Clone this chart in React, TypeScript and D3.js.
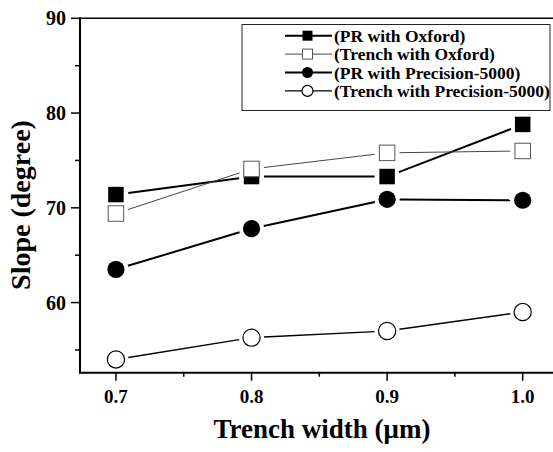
import React from 'react';
import { scaleLinear } from 'd3';

// trench widths (um)
const widths = [0.7, 0.8, 0.9, 1.0];

// slope values in degrees
const prOxford = [71.4, 73.3, 73.3, 78.8];
const trenchOxford = [69.4, 74.1, 75.8, 76.0];
const prPrecision = [63.5, 67.8, 70.9, 70.8];
const trenchPrecision = [54.0, 56.3, 57.0, 59.0];

const seriesNames = [
    '(PR with Oxford)',
    '(Trench with Oxford)',
    '(PR with Precision-5000)',
    '(Trench with Precision-5000)'
];

const xTicks = [0.7, 0.8, 0.9, 1.0];
const xMinorTicks = [0.75, 0.85, 0.95];
const yTicks = [60, 70, 80, 90];
const yMinorTicks = [55, 65, 75, 85];

const W = 553;
const H = 452;
const FONT = '"Liberation Serif", "Times New Roman", serif';

type Style = {
    marker: 'square' | 'circle';
    filled: boolean;
    lineColor: string;
    lineWidth: number;
};

const styles: Style[] = [
    { marker: 'square', filled: true, lineColor: '#000', lineWidth: 2 },
    { marker: 'square', filled: false, lineColor: '#444', lineWidth: 1 },
    { marker: 'circle', filled: true, lineColor: '#000', lineWidth: 2 },
    { marker: 'circle', filled: false, lineColor: '#000', lineWidth: 1.4 }
];

const Marker = ({ cx, cy, st, size }: { cx: number; cy: number; st: Style; size: number }) => {
    if (st.marker === 'square') {
        return (
            <rect
                x={cx - size / 2}
                y={cy - size / 2}
                width={size}
                height={size}
                fill={st.filled ? '#000' : '#fff'}
                stroke={st.filled ? '#000' : '#555'}
                strokeWidth={st.filled ? 0 : 1}
            />
        );
    }
    return (
        <circle
            cx={cx}
            cy={cy}
            r={size / 2}
            fill={st.filled ? '#000' : '#fff'}
            stroke="#000"
            strokeWidth={st.filled ? 0 : 1.2}
        />
    );
};

const App = () => {
    const x = scaleLinear().domain([0.6735, 1.05]).range([80, 590.5]);
    const y = scaleLinear().domain([52.6, 90]).range([372.7, 18.3]);

    const allSeries = [prOxford, trenchOxford, prPrecision, trenchPrecision];
    const gap = 12.5;

    // line segments stop short of the markers, like the original plot
    const segments = (vals: number[]) => {
        const out: Array<[number, number, number, number]> = [];
        for (let i = 0; i < vals.length - 1; i++) {
            const x0 = x(widths[i]);
            const y0 = y(vals[i]);
            const x1 = x(widths[i + 1]);
            const y1 = y(vals[i + 1]);
            const len = Math.hypot(x1 - x0, y1 - y0);
            const ux = (x1 - x0) / len;
            const uy = (y1 - y0) / len;
            out.push([x0 + ux * gap, y0 + uy * gap, x1 - ux * gap, y1 - uy * gap]);
        }
        return out;
    };

    const left = x.range()[0];
    const bottom = y.range()[0];
    const top = y.range()[1];

    // legend
    const legX = 242;
    const legY = 24.5;
    const legW = 308;
    const legH = 86;
    const rowY = (i: number) => 35.7 + i * 18.4;

    return (
        <div style={{ position: 'absolute', left: 0, top: 0 }}>
            <svg width={W} height={H} style={{ display: 'block', background: '#fff' }} fontFamily={FONT}>
                {/* frame */}
                <line x1={left} x2={W + 5} y1={top} y2={top} stroke="#000" strokeWidth={1.5} />
                <line x1={left} x2={left} y1={top - 1} y2={bottom + 1} stroke="#000" strokeWidth={2} />
                <line x1={left - 1} x2={W + 5} y1={bottom} y2={bottom} stroke="#000" strokeWidth={2} />

                {/* y ticks */}
                {yTicks.map((t) => (
                    <g key={`yt${t}`}>
                        <line x1={left - 9} x2={left} y1={y(t)} y2={y(t)} stroke="#000" strokeWidth={1.5} />
                        <text
                            x={66}
                            y={y(t)}
                            dy="0.35em"
                            textAnchor="end"
                            fontSize={20}
                            fontWeight="bold"
                        >
                            {t}
                        </text>
                    </g>
                ))}
                {yMinorTicks.map((t) => (
                    <line key={`ym${t}`} x1={left - 5} x2={left} y1={y(t)} y2={y(t)} stroke="#000" strokeWidth={1.5} />
                ))}

                {/* x ticks */}
                {xTicks.map((t) => (
                    <g key={`xt${t}`}>
                        <line x1={x(t)} x2={x(t)} y1={bottom} y2={bottom + 8} stroke="#000" strokeWidth={1.5} />
                        <text x={x(t)} y={403} textAnchor="middle" fontSize={19} fontWeight="bold">
                            {t.toFixed(1)}
                        </text>
                    </g>
                ))}
                {xMinorTicks.map((t) => (
                    <line key={`xm${t}`} x1={x(t)} x2={x(t)} y1={bottom} y2={bottom + 4} stroke="#000" strokeWidth={1.5} />
                ))}

                {/* axis titles */}
                <text x={322} y={438} textAnchor="middle" fontSize={27} fontWeight="bold">
                    Trench width (μm)
                </text>
                <text
                    transform="translate(30,205) rotate(-90)"
                    textAnchor="middle"
                    fontSize={28}
                    fontWeight="bold"
                >
                    Slope (degree)
                </text>

                {/* series */}
                {allSeries.map((vals, si) => (
                    <g key={`s${si}`}>
                        {segments(vals).map((s, i) => (
                            <line
                                key={i}
                                x1={s[0]}
                                y1={s[1]}
                                x2={s[2]}
                                y2={s[3]}
                                stroke={styles[si].lineColor}
                                strokeWidth={styles[si].lineWidth}
                            />
                        ))}
                        {vals.map((v, i) => (
                            <Marker
                                key={i}
                                cx={x(widths[i])}
                                cy={y(v)}
                                st={styles[si]}
                                size={styles[si].marker === 'square' ? 15.5 : 17.2}
                            />
                        ))}
                    </g>
                ))}

                {/* legend */}
                <rect x={legX} y={legY} width={legW} height={legH} fill="#fff" stroke="#222" strokeWidth={1} />
                {seriesNames.map((name, i) => (
                    <g key={name}>
                        <line
                            x1={285}
                            x2={332}
                            y1={rowY(i)}
                            y2={rowY(i)}
                            stroke={styles[i].lineColor}
                            strokeWidth={styles[i].lineWidth}
                        />
                        <Marker
                            cx={307.5}
                            cy={rowY(i)}
                            st={styles[i]}
                            size={styles[i].marker === 'square' ? 10 : 11}
                        />
                        <text x={334} y={rowY(i)} dy="0.35em" fontSize={17.5} fontWeight="bold">
                            {name}
                        </text>
                    </g>
                ))}
            </svg>
        </div>
    );
};

export default App;
